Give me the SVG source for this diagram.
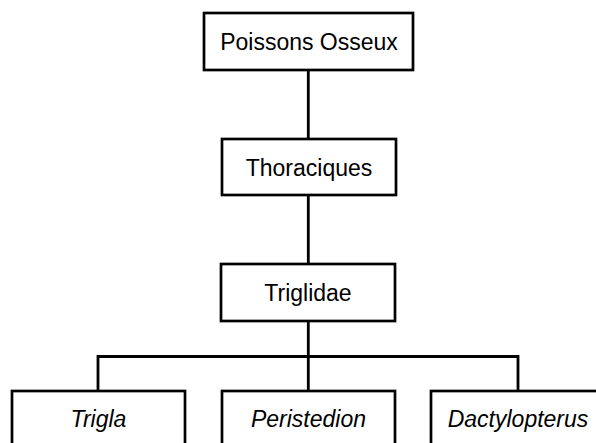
<svg xmlns="http://www.w3.org/2000/svg" width="596" height="443" viewBox="0 0 596 443">
<style>
.box{fill:#fff;stroke:#000;stroke-width:2.7}
.lbl{font-family:"Liberation Sans",Arial,sans-serif;font-size:23px;fill:#000;text-anchor:middle}
.it{font-style:italic}
.con{stroke:#000;stroke-width:2.8;fill:none}
</style>
<rect width="596" height="443" fill="#fff"/>
<g id="connectors">
<path class="con" d="M308.3,70V139M308.3,195V264M308.3,321V391M98,391V356.5H518V391"/>
</g>
<g id="n-poissons">
<rect class="box" x="204" y="13" width="209" height="57"/>
<text class="lbl" x="309" y="49.5">Poissons Osseux</text>
</g>
<g id="n-thoraciques">
<rect class="box" x="222" y="139" width="174" height="56"/>
<text class="lbl" x="309" y="175.5">Thoraciques</text>
</g>
<g id="n-triglidae">
<rect class="box" x="221" y="264" width="174" height="57"/>
<text class="lbl" x="308" y="300.5">Triglidae</text>
</g>
<g id="n-trigla">
<rect class="box" x="12" y="391" width="173" height="57"/>
<text class="lbl it" x="98.5" y="427">Trigla</text>
</g>
<g id="n-peristedion">
<rect class="box" x="222" y="391" width="173" height="57"/>
<text class="lbl it" x="308.5" y="427">Peristedion</text>
</g>
<g id="n-dactylopterus">
<rect class="box" x="431" y="391" width="174" height="57"/>
<text class="lbl it" x="518" y="427">Dactylopterus</text>
</g>
</svg>
